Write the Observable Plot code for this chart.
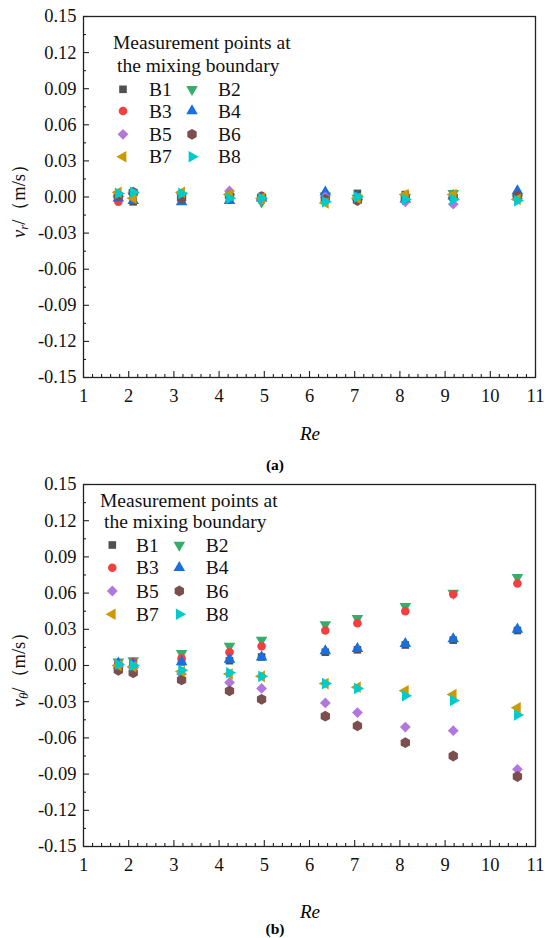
<!DOCTYPE html>
<html>
<head>
<meta charset="utf-8">
<script src="https://cdn.jsdelivr.net/npm/d3@7"></script>
<script src="https://cdn.jsdelivr.net/npm/@observablehq/plot@0.6"></script>
<style>
  body { margin: 0; background: #fff; }
  #page { position: relative; width: 550px; height: 938px; font-family: "Liberation Serif", "Tinos", "DejaVu Serif", serif; }
  .abs { position: absolute; }
  .xl { font-style: italic; font-size: 19px; line-height: 20px; width: 100px; text-align: center; }
  .cap { font-weight: bold; font-size: 15.5px; line-height: 18px; width: 100px; text-align: center; }
</style>
</head>
<body>
<div id="page"></div>
<script>
// ---------------- data ----------------
const re = [1.77, 2.10, 3.17, 4.23, 4.94, 6.35, 7.06, 8.12, 9.18, 10.60];
const seriesNames = ["B1", "B2", "B3", "B4", "B5", "B6", "B7", "B8"];
const seriesColors = ["#515151", "#37AD6B", "#F14040", "#1A6FDF", "#B177DE", "#7D4E4E", "#CC9900", "#00CBCC"];

// (a) radial velocity v_r (m/s)
const vrB1 = [0.000, -0.004, -0.002, -0.001, 0.000, 0.001, 0.003, 0.002, 0.000, 0.000];
const vrB2 = [-0.002, 0.001, 0.001, 0.000, -0.004, 0.001, -0.001, 0.000, 0.003, -0.001];
const vrB3 = [-0.004, 0.002, 0.001, 0.000, 0.001, 0.002, 0.000, 0.001, -0.001, 0.002];
const vrB4 = [-0.001, -0.003, -0.004, -0.003, -0.001, 0.004, 0.000, -0.002, 0.001, 0.005];
const vrB5 = [0.001, 0.003, 0.002, 0.005, -0.002, 0.000, -0.002, -0.004, -0.006, -0.001];
const vrB6 = [0.001, 0.004, -0.001, 0.001, 0.000, -0.002, -0.003, -0.001, 0.000, 0.001];
const vrB7 = [0.004, -0.001, 0.004, 0.002, -0.001, -0.005, -0.001, 0.002, 0.002, -0.002];
const vrB8 = [0.003, 0.004, 0.003, -0.001, -0.001, -0.004, 0.000, -0.002, -0.002, -0.003];

// (b) tangential velocity v_theta (m/s)
const vtB1 = [0.000, 0.002, 0.003, 0.004, 0.007, 0.011, 0.013, 0.017, 0.021, 0.029];
const vtB2 = [0.003, 0.004, 0.010, 0.016, 0.021, 0.034, 0.039, 0.049, 0.060, 0.073];
const vtB3 = [0.002, 0.003, 0.006, 0.011, 0.016, 0.029, 0.035, 0.045, 0.059, 0.068];
const vtB4 = [0.002, 0.001, 0.003, 0.005, 0.007, 0.012, 0.014, 0.018, 0.022, 0.030];
const vtB5 = [-0.002, -0.002, -0.007, -0.014, -0.019, -0.031, -0.039, -0.051, -0.054, -0.086];
const vtB6 = [-0.004, -0.006, -0.012, -0.021, -0.028, -0.042, -0.050, -0.064, -0.075, -0.092];
const vtB7 = [0.000, -0.001, -0.005, -0.007, -0.009, -0.015, -0.018, -0.021, -0.024, -0.035];
const vtB8 = [0.001, 0.000, -0.004, -0.006, -0.009, -0.015, -0.019, -0.025, -0.029, -0.041];

const xTicks = [1, 2, 3, 4, 5, 6, 7, 8, 9, 10, 11];
const yTicks = [-0.15, -0.12, -0.09, -0.06, -0.03, 0.00, 0.03, 0.06, 0.09, 0.12, 0.15];
const legendTitle = ["Measurement points at", "the mixing boundary"];

const FONT = "'Liberation Serif', Tinos, 'DejaVu Serif', serif";

// ---------------- symbols ----------------
const S3 = Math.sqrt(3);
function triangle(dir) {
  return { draw(ctx, size) {
    const y = -Math.sqrt(size / (S3 * 3));
    let pts = [[0, y * 2], [-S3 * y, -y], [S3 * y, -y]];
    pts = pts.map(([px, py]) => dir === "down" ? [px, -py] : dir === "left" ? [py, px] : dir === "right" ? [-py, px] : [px, py]);
    ctx.moveTo(pts[0][0], pts[0][1]); ctx.lineTo(pts[1][0], pts[1][1]); ctx.lineTo(pts[2][0], pts[2][1]); ctx.closePath();
  }};
}
const square = { draw(ctx, size) { const s = Math.sqrt(size) / 2; ctx.moveTo(-s, -s); ctx.lineTo(s, -s); ctx.lineTo(s, s); ctx.lineTo(-s, s); ctx.closePath(); } };
const circle = { draw(ctx, size) { const r = Math.sqrt(size / Math.PI); ctx.moveTo(r, 0); ctx.arc(0, 0, r, 0, 2 * Math.PI); } };
const diamond = { draw(ctx, size) { const s = Math.sqrt(size) / Math.SQRT2; ctx.moveTo(0, -s); ctx.lineTo(s, 0); ctx.lineTo(0, s); ctx.lineTo(-s, 0); ctx.closePath(); } };
const hexagon = { draw(ctx, size) {
  const r = Math.sqrt(size * 1.3 / (1.5 * S3));
  for (let k = 0; k < 6; k++) { const a = -Math.PI / 2 + k * Math.PI / 3; const px = r * Math.cos(a), py = r * Math.sin(a); k ? ctx.lineTo(px, py) : ctx.moveTo(px, py); }
  ctx.closePath();
}};
const seriesSymbols = [square, triangle("down"), circle, triangle("up"), diamond, hexagon, triangle("left"), triangle("right")];

const R = 4.3;
const SIZE = Math.PI * R * R;

function rowsOf(arrays) {
  return arrays.flatMap((vals, i) => vals.map((v, j) => ({ series: seriesNames[i], re: re[j], v })));
}

function makeChart({ arrays, height, legend, sub }) {
  const W = 550, mL = 83, mR = 15, mT = 16, mB = 33;
  const plotW = W - mL - mR, plotH = height - mT - mB;
  const rows = rowsOf(arrays);
  const xMinor = d3.range(50).filter(i => i % 5 !== 0).map(i => 1 + i * 0.2);
  const yMinor = d3.range(10).map(i => -0.135 + i * 0.03);
  const svg = Plot.plot({
    width: W, height, marginLeft: mL, marginRight: mR, marginTop: mT, marginBottom: mB,
    style: { fontFamily: FONT, fontSize: "18.5px", color: "#111", background: "transparent", overflow: "visible" },
    x: { domain: [1, 11] },
    y: { domain: [-0.15, 0.15] },
    marks: [
      Plot.axisX({ ticks: xTicks, tickSize: 0, tickPadding: 11, label: null, tickFormat: d => String(d) }),
      Plot.axisY({ ticks: yTicks, tickSize: 0, tickPadding: 7, label: null, tickFormat: d => d.toFixed(2) }),
      Plot.tickX(xTicks, { x: d => d, insetTop: plotH - 6, stroke: "#222", strokeWidth: 1.1 }),
      Plot.tickX(xMinor, { x: d => d, insetTop: plotH - 3, stroke: "#222", strokeWidth: 1.1 }),
      Plot.tickY(yTicks, { y: d => d, insetRight: plotW - 6, stroke: "#222", strokeWidth: 1.1 }),
      Plot.tickY(yMinor, { y: d => d, insetRight: plotW - 3, stroke: "#222", strokeWidth: 1.1 }),
      ...seriesNames.map((name, i) => Plot.dot(rows.filter(d => d.series === name), {
        x: "re", y: "v", r: R, fill: seriesColors[i], stroke: "none", symbol: seriesSymbols[i]
      })),
      Plot.frame({ stroke: "#222", strokeWidth: 1.3 })
    ]
  });
  const s = d3.select(svg);
  s.attr("font-family", FONT);
  // legend
  const g = s.append("g").attr("font-size", "19.5px").attr("fill", "#111").attr("text-anchor", "start");
  g.append("text").attr("x", legend.hx[0]).attr("y", legend.hy[0]).attr("dominant-baseline", "central").text(legendTitle[0]);
  g.append("text").attr("x", legend.hx[1]).attr("y", legend.hy[1]).attr("dominant-baseline", "central").text(legendTitle[1]);
  seriesNames.forEach((name, i) => {
    const row = Math.floor(i / 2), col = i % 2;
    const y = legend.rows[row];
    g.append("path").attr("d", d3.symbol(seriesSymbols[i], SIZE)()).attr("fill", seriesColors[i])
      .attr("transform", `translate(${legend.sx[col]},${y})`);
    g.append("text").attr("x", legend.tx[col]).attr("y", y).attr("dominant-baseline", "central").text(name);
  });
  // y label
  const yl = s.append("text").attr("transform", `translate(19,${mT + plotH / 2}) rotate(-90)`)
    .attr("text-anchor", "middle").attr("dominant-baseline", "central").attr("font-size", "18.5px").attr("fill", "#111");
  yl.append("tspan").attr("font-style", "italic").text("v");
  yl.append("tspan").attr("font-style", "italic").attr("font-size", "13px").attr("dy", "4").text(sub);
  yl.append("tspan").attr("dy", "-4").text("/（m/s）");
  return svg;
}

const page = document.getElementById("page");
function place(el, top, left) { el.classList.add("abs"); el.style.top = top + "px"; el.style.left = (left || 0) + "px"; page.appendChild(el); return el; }
function div(cls, text) { const d = document.createElement("div"); d.className = cls; d.textContent = text; return d; }

const svgA = makeChart({
  arrays: [vrB1, vrB2, vrB3, vrB4, vrB5, vrB6, vrB7, vrB8], height: 410, sub: "r",
  legend: { hx: [113, 117], hy: [42.7, 65], rows: [89.3, 111, 134.3, 156.7], sx: [123, 192], tx: [149, 218] }
});
place(svgA, 0);
const svgB = makeChart({
  arrays: [vtB1, vtB2, vtB3, vtB4, vtB5, vtB6, vtB7, vtB8], height: 411, sub: "θ",
  legend: { hx: [100, 104], hy: [32, 53.7], rows: [77, 99.7, 123, 146.3], sx: [112.3, 179.3], tx: [136, 205.7] }
});
place(svgB, 468);

place(div("xl", "Re"), 423.5, 260);
place(div("cap", "(a)"), 455.5, 225);
place(div("xl", "Re"), 901.5, 260);
place(div("cap", "(b)"), 920, 225);
</script>
</body>
</html>
